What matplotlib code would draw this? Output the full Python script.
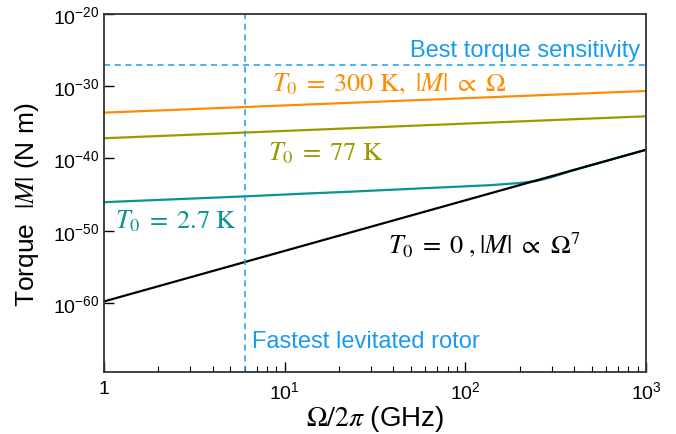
import matplotlib
matplotlib.use("Agg")
import matplotlib.pyplot as plt
import numpy as np

plt.rcParams['font.family'] = ['Liberation Sans', 'DejaVu Sans']
plt.rcParams['mathtext.fontset'] = 'stix'

# Frequency Omega/2pi (GHz) and torque |M| (N m)
freq_line = [1, 1000]
torque_300K = [2.2e-34, 2.2e-31]
torque_77K = [6.3e-38, 6.9e-35]
torque_0K = [1.6e-60, 1.6e-39]

freq_27K = [1, 6, 12, 23, 56, 137, 200, 250, 300, 400, 1000]
torque_27K = [8.9e-47, 5.6e-46, 1.26e-45, 2.5e-45, 7.1e-45, 2.0e-44,
              4.0e-44, 8.0e-44, 2.6e-43, 2.5e-42, 1.6e-39]

fastest_rotor = 6.0        # GHz
best_sensitivity = 1e-27   # N m

blue = '#1a9bf0'
orange = '#ff8c00'
olive = '#999900'
teal = '#0a9494'

fig = plt.figure(figsize=(6.76, 4.35), dpi=100)
ax = fig.add_axes([0.1538, 0.1432, 0.8018, 0.8223])

ax.plot(freq_line, torque_300K, color=orange, lw=1.6)
ax.plot(freq_line, torque_77K, color=olive, lw=1.6)
ax.plot(freq_27K, torque_27K, color=teal, lw=1.6)
ax.plot(freq_line, torque_0K, color='black', lw=1.6)

ax.axvline(fastest_rotor, color=blue, lw=1.1, ls=(0, (4, 3)))
ax.axhline(best_sensitivity, color=blue, lw=1.1, ls=(0, (4, 3)))

ax.set_xscale('log')
ax.set_yscale('log')
ax.set_xlim(1, 1000)
ax.set_ylim(3e-70, 1e-20)

ax.set_xticks([1, 10, 100, 1000])
ax.set_xticklabels(['1', r'$\mathregular{10^{1}}$', r'$\mathregular{10^{2}}$', r'$\mathregular{10^{3}}$'])
ax.set_yticks([1e-60, 1e-50, 1e-40, 1e-30, 1e-20])
ax.set_yticklabels([r'$\mathregular{10^{-%d}}$' % d for d in [60, 50, 40, 30, 20]])
ax.yaxis.set_minor_locator(matplotlib.ticker.NullLocator())
ax.tick_params(which='both', direction='in', labelsize=14)
ax.tick_params(which='major', length=7, width=1)
ax.tick_params(which='minor', length=4, width=0.8)
ax.tick_params(axis='x', pad=6)

for s in ax.spines.values():
    s.set_linewidth(1.3)
    s.set_color('#333333')

ax.set_xlabel(r'$\Omega/2\pi$ (GHz)', fontsize=20, labelpad=1)
ax.set_ylabel(r'Torque  $|M|$ (N m)', fontsize=19)
ax.yaxis.set_label_coords(-0.116, 0.469)

ax.text(926, 1.6e-26, 'Best torque sensitivity', color=blue, fontsize=17,
        ha='right', va='baseline')
ax.text(6.6, 8e-67, 'Fastest levitated rotor', color=blue, fontsize=17,
        ha='left', va='baseline')
ax.text(8.5, 3e-31, r'$T_0\;=\;300\ \mathrm{K},\ |M|\ \propto\ \Omega$', color=orange,
        fontsize=19, ha='left', va='baseline')
ax.text(8.1, 8.5e-41, r'$T_0\;=\;77\ \mathrm{K}$', color=olive,
        fontsize=19, ha='left', va='baseline')
ax.text(1.15, 3.2e-50, r'$T_0\;=\;2.7\ \mathrm{K}$', color=teal,
        fontsize=19, ha='left', va='baseline')
ax.text(37.3, 1.15e-53, r'$T_0\;=\;0\ ,|M|\ \propto\ \Omega^7$', color='black',
        fontsize=19, ha='left', va='baseline')

fig.savefig('out.png', dpi=100)
